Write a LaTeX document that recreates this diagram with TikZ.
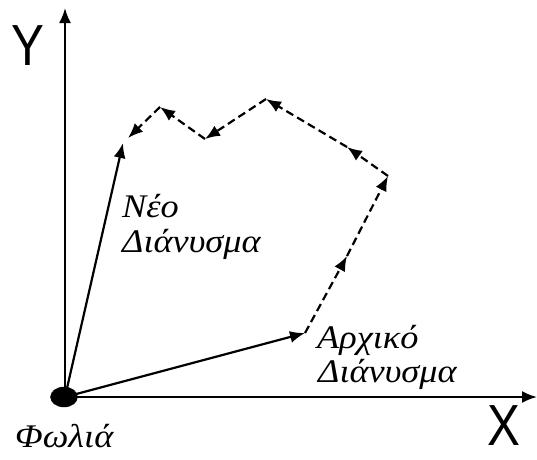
\documentclass[tikz,border=0pt]{standalone}
\usepackage{fontspec}
\setmainfont{Liberation Serif}
\newfontfamily\grfont[FakeStretch=1.1]{Liberation Serif}
\newfontfamily\axisfont[FakeStretch=0.85]{Liberation Sans}
\usetikzlibrary{arrows.meta,shapes.geometric}
\begin{document}
\begin{tikzpicture}[x=1pt,y=-1pt,
  vec/.style={line width=2.2pt,-{Latex[length=15pt,width=12pt]}},
  dvec/.style={line width=2.2pt,dash pattern=on 8pt off 4.5pt,-{Latex[length=15pt,width=12pt]}},
  lbl/.style={anchor=base west,inner sep=0pt,font=\fontsize{33}{35}\selectfont\grfont\itshape},
  axl/.style={inner sep=0pt,font=\fontsize{58}{58}\selectfont\axisfont}]
\useasboundingbox (0,0) rectangle (537,459);
\node[draw,fill=black,ellipse,minimum width=27pt,minimum height=20pt,inner sep=0pt] (o) at (64,397) {};
\coordinate (O) at (65,397);
\coordinate (yt) at (65,8);
\coordinate (xt) at (537,397);
\draw[vec] (O) -- (yt);
\draw[vec] (O) -- (xt);
\coordinate (A) at (305,333);
\coordinate (B) at (347,256);
\coordinate (C) at (388,176);
\coordinate (D) at (347,147);
\coordinate (E) at (266,99);
\coordinate (F) at (205,139);
\coordinate (G) at (160,107);
\coordinate (H) at (128,138);
\coordinate (N) at (123,143);
\draw[vec] (O) -- (A);
\draw[vec] (O) -- (N);
\draw[dvec] (A) -- (B);
\draw[dvec] (B) -- (C);
\draw[dvec] (C) -- (D);
\draw[dvec] (D) -- (E);
\draw[dvec] (E) -- (F);
\draw[dvec] (F) -- (G);
\draw[dvec] (G) -- (H);
\node[axl] (ylab) at (28,46) {Y};
\node[axl] (xlab) at (504,426) {X};
\node[lbl] (neo1) at (122,217) {Νέο};
\node[lbl] (neo2) at (122,252) {Διάνυσμα};
\node[lbl] (arx1) at (317,348) {Αρχικό};
\node[lbl] (arx2) at (318,382) {Διάνυσμα};
\node[lbl] (fol) at (15,447) {Φωλιά};
\end{tikzpicture}
\end{document}
